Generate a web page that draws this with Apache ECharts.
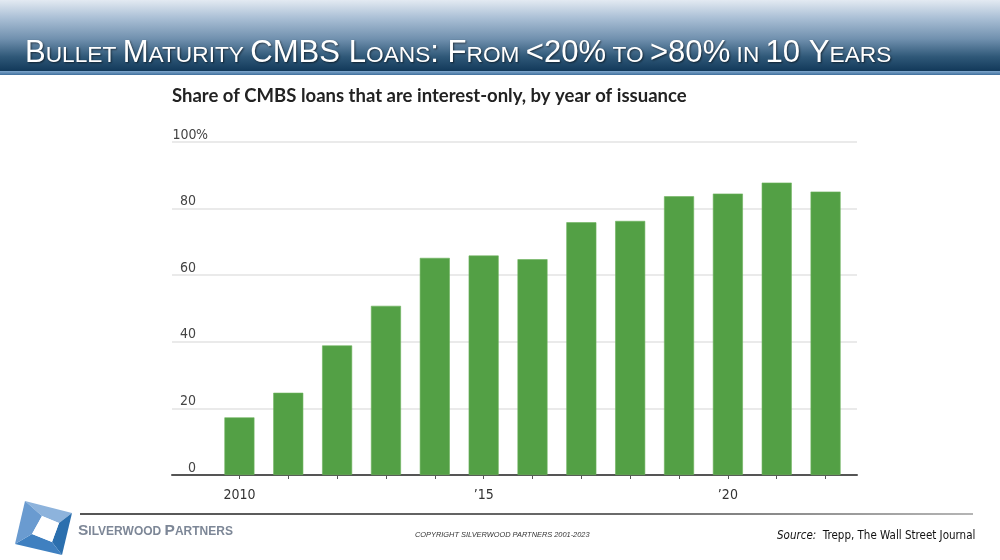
<!DOCTYPE html>
<html>
<head>
<meta charset="utf-8">
<script src="https://cdn.jsdelivr.net/npm/echarts@6/dist/echarts.min.js"></script>
<style>
html,body{margin:0;padding:0;background:#fff;}
#chart{width:1000px;height:560px;}
</style>
</head>
<body>
<div id="chart"></div>
<script>
// ---- data ----
var years = ['2010','2011','2012','2013','2014','2015','2016','2017','2018','2019','2020','2021','2022'];
var shareIO = [17.3, 24.7, 38.9, 50.8, 65.2, 65.9, 64.8, 75.9, 76.3, 83.7, 84.5, 87.8, 85.1];
var yearLabels = {'2010':'2010','2015':'\u201915','2020':'\u201920'};
var yTicks = [0, 20, 40, 60, 80, 100];

var pageTitle = '{b|B}{s|ULLET }{b|M}{s|ATURITY }{b|CMBS L}{s|OANS}{b|: F}{s|ROM }{b|<20%}{s| TO }{b|>80%}{s| IN }{b|10 Y}{s|EARS}';
var chartTitle = 'Share of CMBS loans that are interest-only, by year of issuance';

var narrow = "'Liberation Sans Narrow','DejaVu Sans Condensed','Liberation Sans',sans-serif";

var chart = echarts.init(document.getElementById('chart'));

var option = {
  animation: false,
  backgroundColor: '#ffffff',
  grid: [
    {left: 172, right: 143, top: 142, bottom: 85},
    {left: 215, right: 150, top: 142, bottom: 85}
  ],
  xAxis: [
    {
      gridIndex: 0, type: 'value', min: 0, max: 1,
      axisLine: {show: true, onZero: false, lineStyle: {color: '#555555', width: 2}},
      axisTick: {show: false}, axisLabel: {show: false}, splitLine: {show: false}
    },
    {
      gridIndex: 1, type: 'category', data: years,
      axisLine: {show: false},
      axisTick: {show: true, alignWithLabel: true, interval: 0, length: 4, lineStyle: {color: '#555555', width: 1}},
      axisLabel: {
        interval: 4, margin: 13, color: '#333333', fontSize: 14, fontFamily: narrow,
        formatter: function (v) { return yearLabels[v] || ''; }
      }
    }
  ],
  yAxis: [
    {
      gridIndex: 0, type: 'value', min: 0, max: 100, interval: 20,
      axisLine: {show: false}, axisTick: {show: false},
      splitLine: {show: true, lineStyle: {color: '#e3e3e3', width: 1.5}},
      axisLabel: {
        inside: true, margin: 1, verticalAlign: 'bottom', color: '#444444', fontSize: 14, fontFamily: narrow,
        padding: [0, 0, 0, 0],
        formatter: function (v) {
          if (yTicks.indexOf(v) < 0) return '';
          return v === 100 ? '{n|100}{p|%}' : '{n|' + v + '}';
        },
        rich: {
          n: {width: 23, align: 'right', fontSize: 14, fontFamily: narrow, color: '#444444'},
          p: {fontSize: 14, fontFamily: narrow, color: '#444444'}
        }
      }
    },
    {
      gridIndex: 1, type: 'value', min: 0, max: 100, interval: 20,
      show: false, splitLine: {show: false}
    }
  ],
  series: [
    {
      type: 'bar', xAxisIndex: 1, yAxisIndex: 1, data: shareIO,
      barWidth: 30,
      itemStyle: {color: '#53a045', borderColor: '#6cb25c', borderWidth: 0.6}
    }
  ],
  graphic: [
    // header band
    {type: 'rect', shape: {x: 0, y: 0, width: 1000, height: 71}, silent: true,
      style: {fill: new echarts.graphic.LinearGradient(0, 0, 0, 1, [
        {offset: 0, color: '#e3eaf2'},
        {offset: 0.25, color: '#abc0d6'},
        {offset: 0.55, color: '#7090ae'},
        {offset: 0.8, color: '#2f5878'},
        {offset: 1, color: '#12395a'}
      ])}},
    {type: 'rect', shape: {x: 0, y: 71, width: 1000, height: 4}, silent: true,
      style: {fill: new echarts.graphic.LinearGradient(0, 0, 0, 1, [
        {offset: 0, color: '#7ea6cc'},
        {offset: 1, color: '#3f6f9c'}
      ])}},
    {type: 'text', left: 25, top: 38, silent: true,
      style: {
        text: pageTitle, fill: '#ffffff',
        textShadowColor: 'rgba(0,0,0,0.55)', textShadowBlur: 2, textShadowOffsetX: 1, textShadowOffsetY: 1,
        rich: {
          b: {fontSize: 31.1, fontFamily: "'Liberation Sans',Arial,sans-serif", fill: '#ffffff', verticalAlign: 'bottom'},
          s: {fontSize: 22.7, fontFamily: "'Liberation Sans',Arial,sans-serif", fill: '#ffffff', verticalAlign: 'bottom', padding: [0, 0, 2, 0]}
        }
      }},
    // chart title
    {type: 'text', left: 172, top: 87, silent: true,
      style: {text: chartTitle, fill: '#222222', fontSize: 18.5, fontWeight: 'bold', fontFamily: "Lato,'Noto Sans',sans-serif"}},
    // footer rule
    {type: 'rect', shape: {x: 80, y: 513, width: 893, height: 2}, silent: true,
      style: {fill: new echarts.graphic.LinearGradient(0, 0, 1, 0, [
        {offset: 0, color: '#555555'},
        {offset: 0.6, color: '#6a6a6a'},
        {offset: 1, color: '#b5b5b5'}
      ])}},
    // logo facets
    {type: 'polygon', silent: true, shape: {points: [[25,501],[72,513],[59,523],[42,516]]}, style: {fill: '#8db3dc'}},
    {type: 'polygon', silent: true, shape: {points: [[72,513],[62,555],[52,542],[59,523]]}, style: {fill: '#2b6fae'}},
    {type: 'polygon', silent: true, shape: {points: [[62,555],[15,544],[32,534],[52,542]]}, style: {fill: '#3f80c0'}},
    {type: 'polygon', silent: true, shape: {points: [[15,544],[25,501],[42,516],[32,534]]}, style: {fill: '#6a9bd0'}},
    {type: 'polygon', silent: true, shape: {points: [[42,516],[59,523],[52,542],[32,534]]}, style: {fill: '#ffffff'}},
    // company name
    {type: 'text', left: 78, top: 523, silent: true,
      style: {
        text: '{b|S}{s|ILVERWOOD }{b|P}{s|ARTNERS}', fill: '#7d8797',
        rich: {
          b: {fontSize: 15.5, fontWeight: 'bold', fontFamily: "'Liberation Sans',sans-serif", fill: '#7d8797', verticalAlign: 'bottom'},
          s: {fontSize: 12, fontWeight: 'bold', fontFamily: "'Liberation Sans',sans-serif", fill: '#7d8797', verticalAlign: 'bottom', padding: [0, 0, 1, 0]}
        }
      }},
    // copyright
    {type: 'text', left: 415, top: 531, silent: true,
      style: {text: 'COPYRIGHT SILVERWOOD PARTNERS 2001-2023', fill: '#333333', fontSize: 7.4, fontStyle: 'italic', fontFamily: "'Liberation Sans',sans-serif"}},
    // source
    {type: 'text', left: 777, top: 530, silent: true,
      style: {
        text: '{i|Source:}  Trepp, The Wall Street Journal',
        fill: '#111111', fontSize: 11.5, fontFamily: narrow,
        rich: {i: {fontStyle: 'italic', fontSize: 11.5, fontFamily: narrow, fill: '#111111'}}
      }}
  ]
};

chart.setOption(option);
</script>
</body>
</html>
